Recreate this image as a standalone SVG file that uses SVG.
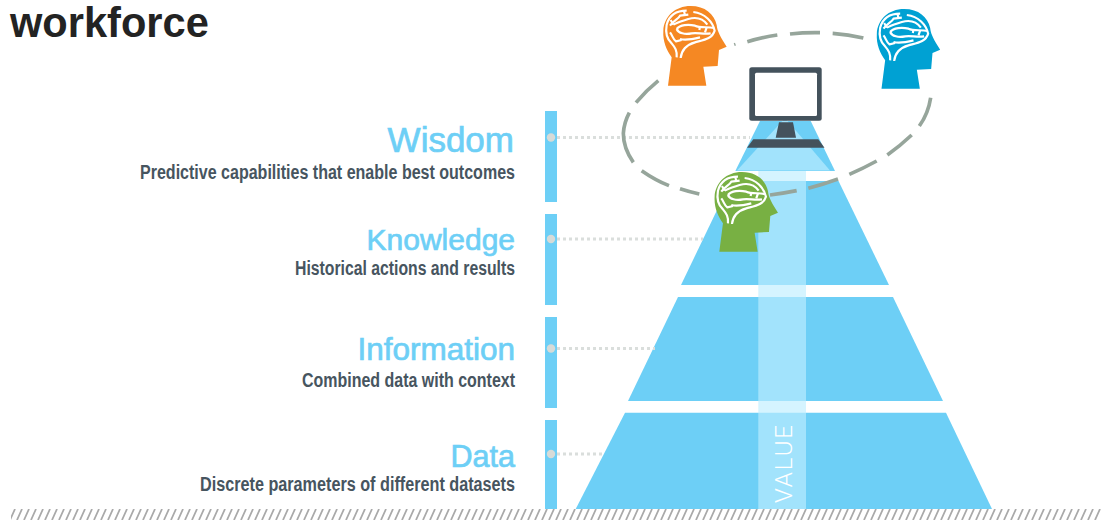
<svg xmlns="http://www.w3.org/2000/svg" width="1101" height="520" viewBox="0 0 1101 520">
<style>
.lab{font-family:"Liberation Sans",Arial,sans-serif;fill:#6DCFF6;text-anchor:end;stroke:#6DCFF6;stroke-width:.7}
.sub{font-family:"Liberation Sans Narrow","Liberation Sans",sans-serif;fill:#47555F;font-size:20px;font-weight:bold}
.bar{fill:#6DCFF6}
.tier{fill:#6DCFF6}
.dot{fill:#D6DBD8}
.lead{stroke:#DADEDC;stroke-width:3;stroke-dasharray:3 3;fill:none}
.dash{fill:none;stroke:#96A59B;stroke-width:11}
.brain{fill:none;stroke:#fff;stroke-width:6.5;stroke-linejoin:round}
</style>
<defs>
<pattern id="hatch" patternUnits="userSpaceOnUse" x="11" y="509" width="7" height="11">
<path d="M-1,11 L4,0 M6,11 L11,0" stroke="#A9A9A9" stroke-width="1.8"/>
</pattern>
<g id="head">
<path d="M204,257 L215,172 C200,150 188,125 190,92 C192,50 225,18 272,18 C315,18 343,42 350,75 C352,95 362,112 380,140 L357,150 L353,198 L310,200 L319,257 Z"/>
<g class="brain" transform="translate(180,12)">
<path d="M50,160 C52,140 45,130 35,118 C20,105 16,85 20,62 C28,33 50,20 80,20"/>
<path d="M62,162 C65,135 80,122 105,115 C130,108 157,105 164,80 C158,53 135,28 100,24"/>
<path d="M30,65 C40,50 55,45 60,35 L85,32"/>
<path d="M40,62 C50,55 70,50 85,45 C110,38 130,45 142,62"/>
<path d="M50,75 C60,62 85,60 105,65 C120,72 140,68 162,72"/>
<path d="M50,75 C55,88 75,92 95,88 C115,85 130,92 152,88"/>
<path d="M30,85 C38,95 38,105 48,112 L65,108"/>
<path d="M60,105 C80,110 100,105 120,100"/>
<path d="M120,67 L118,78 M140,70 L135,85 M75,33 L72,22 M40,62 L32,48"/>
</g>
</g>
</defs>
<rect width="1101" height="520" fill="#fff"/>
<text id="title" x="10" y="37" font-family="Liberation Sans,Arial,sans-serif" font-weight="bold" font-size="41.6" fill="#232323">workforce</text>
<rect x="11" y="509" width="1090" height="11" fill="url(#hatch)"/>

<g id="pyramid">
<polygon class="tier" points="575.7,509 992,509 946,412.7 625,412.7"/>
<polygon class="tier" points="628,401 943,401 893,297 678,297"/>
<polygon class="tier" points="681,285 889,285 838.5,181 731,181"/>
<polygon class="tier" points="735.3,171 835,171 810.7,121 760,121"/>
<polygon points="737,170.5 785,118 830,170.5" fill="#A2E3FC"/>
<rect x="758.3" y="171" width="47.7" height="338" fill="#BEEEFF" fill-opacity=".65"/>
<text id="value" transform="translate(791.5,503) rotate(-90)" font-family="Roboto,Liberation Sans,sans-serif" font-weight="300" font-size="24" fill="#fff" textLength="78" lengthAdjust="spacing">VALUE</text>
</g>

<g id="connectors">
<line class="lead" x1="557" y1="137.5" x2="750" y2="137.5"/>
<line class="lead" x1="557" y1="239" x2="703" y2="239"/>
<line class="lead" x1="557" y1="348.5" x2="655" y2="348.5"/>
<line class="lead" x1="557" y1="454" x2="603" y2="454"/>
<g transform="translate(600,0) scale(.33333)">
<path class="dash" d="M442,125 Q485,112 532,105"/>
<path class="dash" d="M570,102 Q615,97 660,98"/>
<path class="dash" d="M698,100 Q745,103 790,114"/>
<path class="dash" d="M992,293 Q985,340 958,378"/>
<path class="dash" d="M935,405 Q900,438 862,465"/>
<path class="dash" d="M830,483 Q790,505 748,523"/>
<path class="dash" d="M714,537 Q670,553 625,565"/>
<path class="dash" d="M590,572 Q550,580 510,585"/>
<path class="dash" d="M298,582 Q268,575 240,566"/>
<path class="dash" d="M207,557 Q165,540 125,512"/>
<path class="dash" d="M100,487 Q70,445 70,400 Q72,368 88,338"/>
<path class="dash" d="M108,308 Q138,272 175,242"/>
<path d="M403,129 L406,137" fill="none" stroke="#96A59B" stroke-width="4"/>
</g>
</g>

<g id="monitor">
<rect x="749.3" y="67.3" width="72.4" height="53.4" rx="2.5" fill="#44525C"/>
<rect x="755" y="72.7" width="62" height="43.3" rx="1.5" fill="#fff"/>
<polygon points="779,122.3 793,122.3 796,137.7 775.7,137.7" fill="#44525C"/>
<polygon points="753.3,139.3 818.3,139.3 824.5,147.7 747,147.7" fill="#44525C"/>
</g>

<g id="head-orange" fill="#F58823"><use href="#head" transform="translate(600,0) scale(.33333)"/></g>
<g id="head-blue" fill="#00A1D3"><use href="#head" transform="translate(813.5,3) scale(.33333)"/></g>
<g id="head-green" fill="#78B043"><use href="#head" transform="translate(651.3,166) scale(.33333)"/></g>

<g id="wisdom">
<rect class="bar" x="545" y="111" width="12" height="91"/>
<circle class="dot" cx="551" cy="137.5" r="4.2"/>
<text class="lab" x="514" y="152" font-size="35">Wisdom</text>
<text class="sub" x="140" y="179" textLength="375" lengthAdjust="spacingAndGlyphs">Predictive capabilities that enable best outcomes</text>
</g>
<g id="knowledge">
<rect class="bar" x="545" y="214" width="12" height="91"/>
<circle class="dot" cx="551" cy="239" r="4.2"/>
<text class="lab" x="515" y="250" font-size="30">Knowledge</text>
<text class="sub" x="295" y="275" textLength="220" lengthAdjust="spacingAndGlyphs">Historical actions and results</text>
</g>
<g id="information">
<rect class="bar" x="545" y="317" width="12" height="91"/>
<circle class="dot" cx="551" cy="348.5" r="4.2"/>
<text class="lab" x="515" y="360" font-size="31.5">Information</text>
<text class="sub" x="302" y="387" textLength="213" lengthAdjust="spacingAndGlyphs">Combined data with context</text>
</g>
<g id="data">
<rect class="bar" x="545" y="420" width="12" height="89"/>
<circle class="dot" cx="551" cy="454" r="4.2"/>
<text class="lab" x="515" y="467" font-size="30.5">Data</text>
<text class="sub" x="200" y="491" textLength="315" lengthAdjust="spacingAndGlyphs">Discrete parameters of different datasets</text>
</g>
</svg>
